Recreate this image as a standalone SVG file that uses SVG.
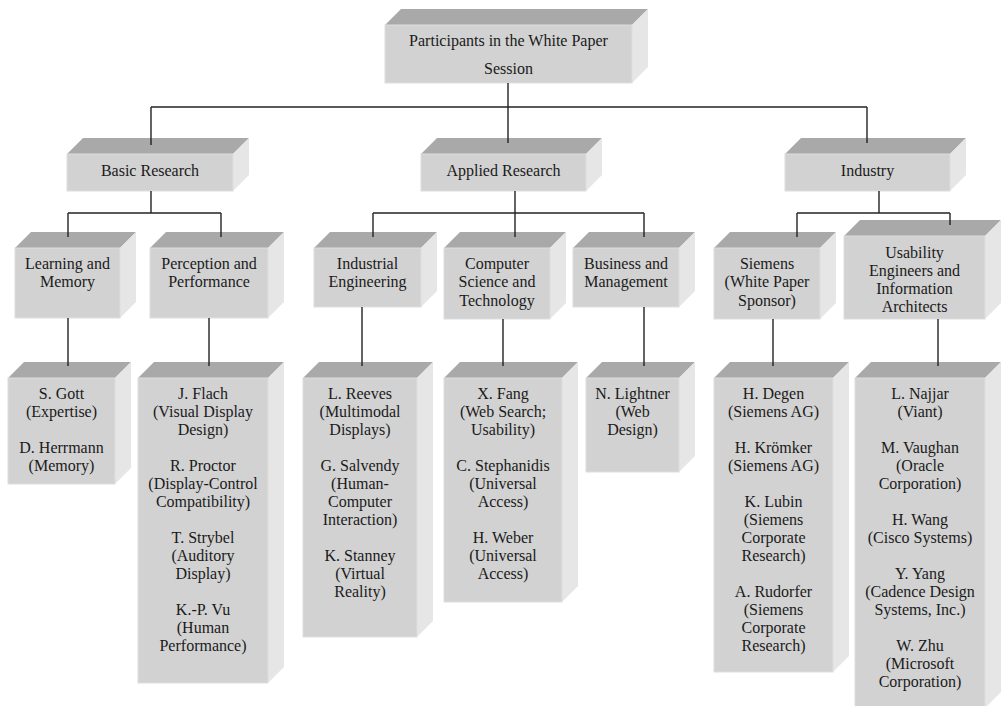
<svg xmlns="http://www.w3.org/2000/svg" width="1001" height="706" viewBox="0 0 1001 706">
<style>
.front{fill:#d2d2d2;stroke:#dedede;stroke-width:1}
.top{fill:#a9a9a9}
.side{fill:#e6e6e6}
text{font-family:"Liberation Serif","Times New Roman",serif;font-size:16px;fill:#1a1a1a;text-anchor:middle}
.conn line{stroke:#222;stroke-width:1.4}
</style>
<rect width="1001" height="706" fill="#ffffff"/>

<g id="n-root">
<polygon class="top" points="385,25 632,25 648,9 401,9"/>
<polygon class="side" points="632,25 648,9 648,67 632,83"/>
<rect class="front" x="385" y="25" width="247" height="58"/>
<text x="508.5" y="45.5">Participants in the White Paper</text>
<text x="508.5" y="73.5">Session</text>
</g>

<g id="n-basic">
<polygon class="top" points="67,154 233,154 249,138 83,138"/>
<polygon class="side" points="233,154 249,138 249,175 233,191"/>
<rect class="front" x="67" y="154" width="166" height="37"/>
<text x="150" y="176">Basic Research</text>
</g>
<g id="n-applied">
<polygon class="top" points="421,154 586,154 602,138 437,138"/>
<polygon class="side" points="586,154 602,138 602,175 586,191"/>
<rect class="front" x="421" y="154" width="165" height="37"/>
<text x="503.5" y="176">Applied Research</text>
</g>
<g id="n-industry">
<polygon class="top" points="785,154 950,154 966,138 801,138"/>
<polygon class="side" points="950,154 966,138 966,175 950,191"/>
<rect class="front" x="785" y="154" width="165" height="37"/>
<text x="867.5" y="176">Industry</text>
</g>

<g id="n-learning">
<polygon class="top" points="15,248 120,248 136,232 31,232"/>
<polygon class="side" points="120,248 136,232 136,302 120,318"/>
<rect class="front" x="15" y="248" width="105" height="70"/>
<text x="67.5" y="268.5">Learning and</text>
<text x="67.5" y="287">Memory</text>
</g>
<g id="n-perception">
<polygon class="top" points="150,248 268,248 284,232 166,232"/>
<polygon class="side" points="268,248 284,232 284,302 268,318"/>
<rect class="front" x="150" y="248" width="118" height="70"/>
<text x="209" y="268.5">Perception and</text>
<text x="209" y="287">Performance</text>
</g>
<g id="n-industrial">
<polygon class="top" points="314,248 421,248 437,232 330,232"/>
<polygon class="side" points="421,248 437,232 437,291 421,307"/>
<rect class="front" x="314" y="248" width="107" height="59"/>
<text x="367.5" y="268.5">Industrial</text>
<text x="367.5" y="287">Engineering</text>
</g>
<g id="n-compsci">
<polygon class="top" points="444,248 550,248 566,232 460,232"/>
<polygon class="side" points="550,248 566,232 566,303 550,319"/>
<rect class="front" x="444" y="248" width="106" height="71"/>
<text x="497" y="268.5">Computer</text>
<text x="497" y="287">Science and</text>
<text x="497" y="305.5">Technology</text>
</g>
<g id="n-business">
<polygon class="top" points="573,248 679,248 695,232 589,232"/>
<polygon class="side" points="679,248 695,232 695,291 679,307"/>
<rect class="front" x="573" y="248" width="106" height="59"/>
<text x="626" y="268.5">Business and</text>
<text x="626" y="287">Management</text>
</g>
<g id="n-siemens">
<polygon class="top" points="714,248 820,248 836,232 730,232"/>
<polygon class="side" points="820,248 836,232 836,303 820,319"/>
<rect class="front" x="714" y="248" width="106" height="71"/>
<text x="767" y="268.5">Siemens</text>
<text x="767" y="287">(White Paper</text>
<text x="767" y="305.5">Sponsor)</text>
</g>
<g id="n-usability">
<polygon class="top" points="844,236 985,236 1001,220 860,220"/>
<polygon class="side" points="985,236 1001,220 1001,303 985,319"/>
<rect class="front" x="844" y="236" width="141" height="83"/>
<text x="914.5" y="257.5">Usability</text>
<text x="914.5" y="275.5">Engineers and</text>
<text x="914.5" y="293.5">Information</text>
<text x="914.5" y="312">Architects</text>
</g>

<g id="n-gott">
<polygon class="top" points="8,378 115,378 131,362 24,362"/>
<polygon class="side" points="115,378 131,362 131,468 115,484"/>
<rect class="front" x="8" y="378" width="107" height="106"/>
<text x="61.5" y="398.5">S. Gott</text>
<text x="61.5" y="416.6">(Expertise)</text>
<text x="61.5" y="452.7">D. Herrmann</text>
<text x="61.5" y="470.7">(Memory)</text>
</g>
<g id="n-flach">
<polygon class="top" points="138,378 268,378 284,362 154,362"/>
<polygon class="side" points="268,378 284,362 284,667 268,683"/>
<rect class="front" x="138" y="378" width="130" height="305"/>
<text x="203" y="398.5">J. Flach</text>
<text x="203" y="416.6">(Visual Display</text>
<text x="203" y="434.6">Design)</text>
<text x="203" y="470.7">R. Proctor</text>
<text x="203" y="488.8">(Display-Control</text>
<text x="203" y="506.8">Compatibility)</text>
<text x="203" y="542.9">T. Strybel</text>
<text x="203" y="561">(Auditory</text>
<text x="203" y="579">Display)</text>
<text x="203" y="615.1">K.-P. Vu</text>
<text x="203" y="633.2">(Human</text>
<text x="203" y="651.2">Performance)</text>
</g>
<g id="n-reeves">
<polygon class="top" points="303,378 417,378 433,362 319,362"/>
<polygon class="side" points="417,378 433,362 433,621 417,637"/>
<rect class="front" x="303" y="378" width="114" height="259"/>
<text x="360" y="398.5">L. Reeves</text>
<text x="360" y="416.6">(Multimodal</text>
<text x="360" y="434.6">Displays)</text>
<text x="360" y="470.7">G. Salvendy</text>
<text x="360" y="488.8">(Human-</text>
<text x="360" y="506.8">Computer</text>
<text x="360" y="524.9">Interaction)</text>
<text x="360" y="561">K. Stanney</text>
<text x="360" y="579">(Virtual</text>
<text x="360" y="597.1">Reality)</text>
</g>
<g id="n-fang">
<polygon class="top" points="444,378 562,378 578,362 460,362"/>
<polygon class="side" points="562,378 578,362 578,586 562,602"/>
<rect class="front" x="444" y="378" width="118" height="224"/>
<text x="503" y="398.5">X. Fang</text>
<text x="503" y="416.6">(Web Search;</text>
<text x="503" y="434.6">Usability)</text>
<text x="503" y="470.7">C. Stephanidis</text>
<text x="503" y="488.8">(Universal</text>
<text x="503" y="506.8">Access)</text>
<text x="503" y="542.9">H. Weber</text>
<text x="503" y="561">(Universal</text>
<text x="503" y="579">Access)</text>
</g>
<g id="n-lightner">
<polygon class="top" points="586,378 679,378 695,362 602,362"/>
<polygon class="side" points="679,378 695,362 695,456 679,472"/>
<rect class="front" x="586" y="378" width="93" height="94"/>
<text x="632.5" y="398.5">N. Lightner</text>
<text x="632.5" y="416.6">(Web</text>
<text x="632.5" y="434.6">Design)</text>
</g>
<g id="n-degen">
<polygon class="top" points="714,378 833,378 849,362 730,362"/>
<polygon class="side" points="833,378 849,362 849,656 833,672"/>
<rect class="front" x="714" y="378" width="119" height="294"/>
<text x="773.5" y="398.5">H. Degen</text>
<text x="773.5" y="416.6">(Siemens AG)</text>
<text x="773.5" y="452.7">H. Krömker</text>
<text x="773.5" y="470.7">(Siemens AG)</text>
<text x="773.5" y="506.8">K. Lubin</text>
<text x="773.5" y="524.9">(Siemens</text>
<text x="773.5" y="542.9">Corporate</text>
<text x="773.5" y="561">Research)</text>
<text x="773.5" y="597.1">A. Rudorfer</text>
<text x="773.5" y="615.1">(Siemens</text>
<text x="773.5" y="633.2">Corporate</text>
<text x="773.5" y="651.2">Research)</text>
</g>
<g id="n-najjar">
<polygon class="top" points="855,378 985,378 1001,362 871,362"/>
<polygon class="side" points="985,378 1001,362 1001,692 985,708"/>
<rect class="front" x="855" y="378" width="130" height="330"/>
<text x="920" y="398.5">L. Najjar</text>
<text x="920" y="416.6">(Viant)</text>
<text x="920" y="452.7">M. Vaughan</text>
<text x="920" y="470.7">(Oracle</text>
<text x="920" y="488.8">Corporation)</text>
<text x="920" y="524.9">H. Wang</text>
<text x="920" y="542.9">(Cisco Systems)</text>
<text x="920" y="579">Y. Yang</text>
<text x="920" y="597.1">(Cadence Design</text>
<text x="920" y="615.1">Systems, Inc.)</text>
<text x="920" y="651.2">W. Zhu</text>
<text x="920" y="669.3">(Microsoft</text>
<text x="920" y="687.3">Corporation)</text>
</g>

<g id="connectors" class="conn">
<line x1="508" y1="83" x2="508" y2="143"/>
<line x1="151" y1="107" x2="867" y2="107"/>
<line x1="151" y1="107" x2="151" y2="145"/>
<line x1="867" y1="107" x2="867" y2="143"/>

<line x1="151" y1="191" x2="151" y2="213"/>
<line x1="68" y1="213" x2="221" y2="213"/>
<line x1="68" y1="213" x2="68" y2="237"/>
<line x1="221" y1="213" x2="221" y2="237"/>

<line x1="515" y1="191" x2="515" y2="237"/>
<line x1="373" y1="213" x2="644" y2="213"/>
<line x1="373" y1="213" x2="373" y2="237"/>
<line x1="644" y1="213" x2="644" y2="237"/>

<line x1="879" y1="191" x2="879" y2="213"/>
<line x1="797" y1="213" x2="950" y2="213"/>
<line x1="797" y1="213" x2="797" y2="237"/>
<line x1="950" y1="213" x2="950" y2="225"/>

<line x1="68" y1="318" x2="68" y2="366"/>
<line x1="209" y1="318" x2="209" y2="366"/>
<line x1="362" y1="307" x2="362" y2="366"/>
<line x1="503" y1="319" x2="503" y2="366"/>
<line x1="644" y1="307" x2="644" y2="366"/>
<line x1="773" y1="319" x2="773" y2="366"/>
<line x1="938" y1="319" x2="938" y2="366"/>
</g>
</svg>
